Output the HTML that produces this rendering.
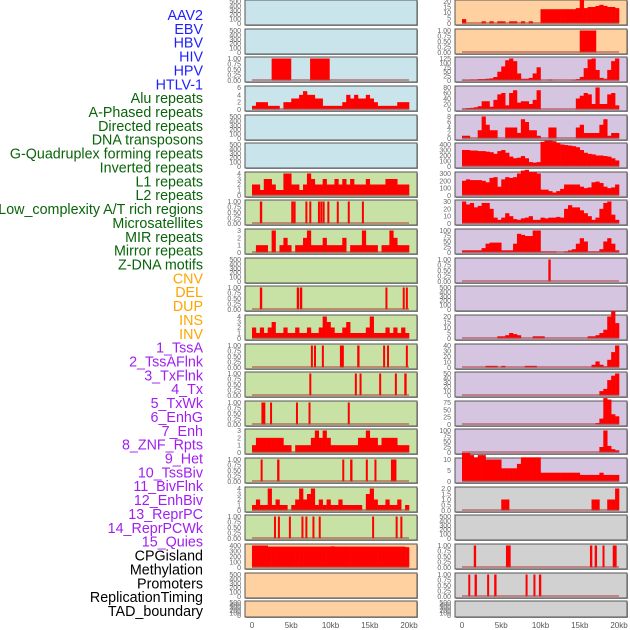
<!DOCTYPE html>
<html><head><meta charset="utf-8"><style>
html,body{margin:0;padding:0;background:#fff;}
svg{display:block;font-family:"Liberation Sans",sans-serif;}
</style></head><body>
<svg id="chart" width="630" height="630" viewBox="0 0 630 630" xmlns="http://www.w3.org/2000/svg"></svg>
<script>
// ---- labels ----
const labelNames = ["AAV2","EBV","HBV","HIV","HPV","HTLV-1","Alu repeats","A-Phased repeats","Directed repeats","DNA transposons","G-Quadruplex forming repeats","Inverted repeats","L1 repeats","L2 repeats","Low_complexity A/T rich regions","Microsatellites","MIR repeats","Mirror repeats","Z-DNA motifs","CNV","DEL","DUP","INS","INV","1_TssA","2_TssAFlnk","3_TxFlnk","4_Tx","5_TxWk","6_EnhG","7_Enh","8_ZNF_Rpts","9_Het","10_TssBiv","11_BivFlnk","12_EnhBiv","13_ReprPC","14_ReprPCWk","15_Quies","CPGisland","Methylation","Promoters","ReplicationTiming","TAD_boundary"];
const labelGroups = [0,0,0,0,0,0,1,1,1,1,1,1,1,1,1,1,1,1,1,2,2,2,2,2,3,3,3,3,3,3,3,3,3,3,3,3,3,3,3,4,4,4,4,4];
const xTickLabels = ["0","5kb","10kb","15kb","20kb"];
const xTickValues = [0,5,10,15,20];

// ---- left column data (40 bins of 0.5kb, or [start,end] kb intervals) ----
const L_HIV = [[2.5,5.0],[7.4,9.9]];
const L_HPV = [1,2,2,2,1,1,1,0,2,2,3,3,4,5,4,4,3,3,1,1,1,1,1,2,4,3,4,3,3,4,3,2,1,1,1,1,1,2,2,2];
const L_row6 = [2,2,1,3,3,2,1,1,4,4,2,2,1,2,4,3,2,2,3,2,2,3,2,3,2,3,2,2,2,3,2,2,2,2,3,3,3,2,2,2];
const L_row7 = [[1.0,1.3],[5.0,5.3],[5.3,5.5],[6.8,7.0],[7.3,7.5],[8.4,8.6],[8.7,8.9],[9.0,9.2],[9.6,9.8],[10.8,11.0],[12.2,12.4],[14.0,14.2]];
const L_row8 = [0,1,1,1,0,3,0,1,2,1,0,1,1,2,3,1,1,1,2,1,1,1,1,2,0,1,1,1,3,1,1,1,0,1,1,3,2,1,1,1];
const L_row10 = [[1.0,1.3],[5.7,6.0],[6.1,6.4],[17.0,17.2],[19.2,19.4],[19.6,19.8]];
const L_row11 = [2,1,2,1,2,3,1,1,2,1,1,2,1,1,2,1,1,2,4,3,2,1,1,2,3,1,1,1,1,2,4,1,1,1,2,1,2,1,2,1];
const L_row12 = [[7.5,7.7],[7.9,8.1],[8.9,9.1],[11.2,11.7],[13.4,13.7],[16.7,16.9],[17.2,17.4],[19.6,19.8]];
const L_row13 = [[7.3,7.5],[13.1,13.3],[13.7,13.9],[16.2,16.4],[18.2,18.4],[19.4,19.7]];
const L_row14 = [[1.2,1.7],[2.3,2.5],[5.6,5.8],[7.2,7.4],[12.2,12.4]];
const L_row15 = [1,2,2,2,2,2,2,2,1,1,0,1,1,1,1,2,3,2,3,2,1,1,1,1,1,1,1,2,2,3,2,2,1,2,2,2,2,1,1,1];
const L_row16 = [[1.1,1.3],[3.2,3.5],[11.5,11.7],[12.5,12.8],[14.5,14.7],[15.6,15.8],[17.7,18.4]];
const L_row17 = [1,2,1,1,4,1,2,1,1,0,1,2,4,2,3,4,1,2,1,2,1,1,2,1,1,1,1,1,0,3,4,2,1,1,2,1,1,2,0,1];
const L_row18 = [[2.8,3.0],[3.3,3.5],[4.7,4.9],[6.3,6.5],[6.8,7.0],[7.7,7.9],[8.5,8.7],[15.3,15.5],[18.3,18.5],[18.9,19.1]];
const L_cpg = [400,400,400,400,380,380,380,380,380,380,380,380,380,380,380,380,380,380,380,380,385,380,380,380,380,380,380,380,380,380,380,380,380,380,380,380,380,380,380,370];

// ---- right column data ----
const R_row0 = [4,0,0,0,0,2,0,2,0,2,2,0,2,2,0,2,0,2,0,0,13,13,13,13,13,13,13,13,13,14,22,14,15,15,16,17,16,15,15,14];
const R_row1 = [[15.0,17.1]];
const R_row2 = [3,3,5,5,8,8,10,12,20,50,80,115,125,110,40,10,10,15,40,75,0,0,5,0,0,0,0,0,3,8,20,70,120,125,60,15,10,60,110,125];
const R_row3 = [3,5,6,8,12,30,30,10,35,55,60,15,60,70,25,30,30,20,35,70,0,0,0,0,0,0,0,0,0,40,50,60,55,20,80,20,20,55,60,15];
const R_row4 = [1,1,0,0,3,8,5,3,3,0,0,4,4,4,2,7,6,3,3,1,0,0,4,4,0,0,0,0,0,4,5,2,2,2,2,5,7,1,2,2];
const R_row5 = [300,300,290,290,280,280,270,260,230,280,300,250,180,150,160,190,150,80,70,80,450,470,470,460,430,400,390,380,370,350,300,250,230,220,200,200,190,180,150,110];
const R_row6 = [200,220,210,210,210,200,180,240,250,120,220,250,240,250,300,340,350,320,320,300,80,80,60,40,60,90,150,150,150,150,120,100,110,180,190,170,120,100,110,150];
const R_row7 = [30,26,28,22,24,28,28,20,8,5,8,14,10,6,5,7,8,10,5,5,8,7,8,8,9,8,20,25,22,22,18,14,10,5,8,20,28,30,12,5];
const R_row8 = [10,10,10,10,10,20,40,45,45,45,10,10,10,40,85,80,75,75,100,100,5,5,5,5,0,0,5,10,15,40,65,50,5,5,5,15,50,65,40,10];
const R_row9 = [[11.0,11.3]];
const R_row11 = [0,0,0,0,0,0,0,0,0,2,2,3,5,4,3,0,0,0,2,2,2,0,0,0,0,0,0,0,0,0,0,0,2,2,3,5,8,20,25,14];
const R_row12 = [0,0,0,0,0,0,3,3,3,0,3,0,0,0,0,0,3,3,3,0,0,0,0,0,0,0,0,0,0,0,0,0,0,5,11,5,2,14,28,40];
const R_row13 = [0,0,0,0,0,0,0,0,0,0,0,0,0,0,0,0,0,0,0,0,0,0,0,0,0,0,0,0,0,0,0,0,0,0,0,10,15,35,45,50];
const R_row14 = [0,0,0,0,0,0,0,0,0,0,0,0,0,0,0,0,0,0,0,0,0,0,0,0,0,0,0,0,0,0,0,0,0,0,5,20,90,85,35,28];
const R_row15 = [0,0,0,0,0,0,0,0,0,0,0,0,0,0,0,0,0,0,0,0,0,0,0,0,0,0,0,0,0,0,0,0,0,0,0,25,100,30,15,10];
const R_row16 = [13,13,12,11,12,12,10,10,10,10,6,6,6,6,8,11,11,11,11,11,4,4,4,4,4,4,4,4,4,4,3,3,3,3,3,4,3,3,3,3];
const R_row17 = [0,0,0,0,0,0,0,0,0,0,1,1,0,0,0,0,0,0,0,0,0,0,0,0,0,0,0,0,0,0,0,0,0,1,1,0,0,1,1,2];
const R_row19 = [[1.5,1.8],[5.6,6.2],[16.3,16.6],[16.9,17.2],[17.9,18.1],[19.2,19.7]];
const R_row20 = [[0.8,1.0],[1.6,1.9],[3.2,3.4],[4.1,4.4],[8.1,8.3],[9.1,9.3],[9.8,10.1]];

const BG = {blue:"#c9e4eb",green:"#c8e1a5",orange:"#ffd1a1",purple:"#d5c5e1",gray:"#d1d1d1"};
const E = "empty";
// [col,row,bg,data,ticks]
const panels = [
 [0,0,"blue",E,[0,100,200,300,400,500]],
 [0,1,"blue",E,[0,100,200,300,400,500]],
 [0,2,"blue",L_HIV,[0,0.25,0.5,0.75,1]],
 [0,3,"blue",L_HPV,[0,2,4,6]],
 [0,4,"blue",E,[0,100,200,300,400,500]],
 [0,5,"blue",E,[0,100,200,300,400,500]],
 [0,6,"green",L_row6,[0,1,2,3,4]],
 [0,7,"green",L_row7,[0,0.25,0.5,0.75,1]],
 [0,8,"green",L_row8,[0,1,2,3]],
 [0,9,"green",E,[0,100,200,300,400,500]],
 [0,10,"green",L_row10,[0,0.25,0.5,0.75,1]],
 [0,11,"green",L_row11,[0,1,2,3,4]],
 [0,12,"green",L_row12,[0,0.25,0.5,0.75,1]],
 [0,13,"green",L_row13,[0,0.25,0.5,0.75,1]],
 [0,14,"green",L_row14,[0,0.25,0.5,0.75,1]],
 [0,15,"green",L_row15,[0,1,2,3]],
 [0,16,"green",L_row16,[0,0.25,0.5,0.75,1]],
 [0,17,"green",L_row17,[0,1,2,3,4]],
 [0,18,"green",L_row18,[0,0.25,0.5,0.75,1]],
 [0,19,"orange",L_cpg,[0,100,200,300,400]],
 [0,20,"orange",E,[0,100,200,300,400,500]],
 [0,21,"orange",E,[0,100,200,300,400,500]],
 [1,0,"orange",R_row0,[0,5,10,15,20]],
 [1,1,"orange",R_row1,[0,0.25,0.5,0.75,1]],
 [1,2,"purple",R_row2,[0,25,50,75,100,125]],
 [1,3,"purple",R_row3,[0,20,40,60,80]],
 [1,4,"purple",R_row4,[0,2,4,6,8]],
 [1,5,"purple",R_row5,[0,100,200,300,400]],
 [1,6,"purple",R_row6,[0,100,200,300]],
 [1,7,"purple",R_row7,[0,10,20,30]],
 [1,8,"purple",R_row8,[0,25,50,75,100]],
 [1,9,"purple",R_row9,[0,0.25,0.5,0.75,1]],
 [1,10,"purple",E,[0,100,200,300,400,500]],
 [1,11,"purple",R_row11,[0,5,10,15,20]],
 [1,12,"purple",R_row12,[0,10,20,30,40]],
 [1,13,"purple",R_row13,[0,10,20,30,40,50]],
 [1,14,"purple",R_row14,[0,25,50,75]],
 [1,15,"purple",R_row15,[0,25,50,75,100]],
 [1,16,"purple",R_row16,[0,5,10]],
 [1,17,"gray",R_row17,[0,0.5,1,1.5,2]],
 [1,18,"gray",E,[0,100,200,300,400,500]],
 [1,19,"gray",R_row19,[0,0.25,0.5,0.75,1]],
 [1,20,"gray",R_row20,[0,0.25,0.5,0.75,1]],
 [1,21,"gray",E,[0,100,200,300,400,500]]
];

const NS="http://www.w3.org/2000/svg";
const svg=document.getElementById("chart");
function mk(tag,attrs,parent){const e=document.createElementNS(NS,tag);for(const k in attrs)e.setAttribute(k,attrs[k]);(parent||svg).appendChild(e);return e;}

// labels
const groupColors=["#1f1fff","#0a640a","#ffa500","#a020f0","#000000"];
labelNames.forEach((t,i)=>{
  const el=mk("text",{x:203,y:20+i*13.86,"text-anchor":"end","font-size":"14.3",fill:groupColors[labelGroups[i]]});
  el.textContent=t;
  
  
});

const colX=[245,455], W=172, X0off=7, XSPAN=157;
function xScale(col,kb){return colX[col]+X0off+kb/20*XSPAN;}
function fmt(v,ticks){const binary=ticks[ticks.length-1]===1;const half=ticks.some(t=>t%1!==0);if(binary)return v.toFixed(2);if(half)return v.toFixed(1);return String(v);}

panels.forEach(p=>{
  const [col,row,bg,data,ticks]=p;
  const top=Math.round(row*28.63);
  const h=row===21?16:25;
  const x=colX[col];
  const g=mk("g",{});
  
  
  const sh=mk("rect",{x:x+1,y:top+1,width:W,height:h,fill:"#999"},g);
  
  
  const r=mk("rect",{x:x,y:top,width:W,height:h,fill:BG[bg],stroke:"#555","stroke-width":1},g);
  
  
  const ymax=ticks[ticks.length-1];
  const yb=top+h-1.5, yt=top+1.5;
  const yS=v=>yb-v/ymax*(yb-yt);
  ticks.forEach(t=>{
    const tl=mk("text",{x:x-4,y:yS(t)+2.5,"text-anchor":"end","font-size":"7",fill:"#666"},g);
    tl.textContent=fmt(t,ticks);
    
    
  });
  if(data===E)return;
  if(Array.isArray(data[0])){
    data.forEach(iv=>{
      const b=mk("rect",{x:xScale(col,iv[0]),y:yS(1),width:Math.max(2,xScale(col,iv[1])-xScale(col,iv[0])),height:yb-yS(1),fill:"#ff0000"},g);
      
      
    });
  } else {
    const bw=20/data.length;
    data.forEach((v,i)=>{
      if(v<=0)return;
      const b=mk("rect",{x:xScale(col,i*bw),y:yS(v),width:xScale(col,(i+1)*bw)-xScale(col,i*bw)+0.3,height:yb-yS(v),fill:"#ff0000"},g);
      
      
    });
  }
  const bl=mk("line",{x1:xScale(col,0),x2:xScale(col,20),y1:yb-0.5,y2:yb-0.5,stroke:"#b04040","stroke-width":1.5,"stroke-opacity":0.7},g);
  
  
});

// x axes
[0,1].forEach(col=>{
  xTickValues.forEach((v,i)=>{
    const t=mk("text",{x:xScale(col,v),y:628,"text-anchor":"middle","font-size":"8",fill:"#555"});
    t.textContent=xTickLabels[i];
    
    
  });
});
</script>
</body></html>
